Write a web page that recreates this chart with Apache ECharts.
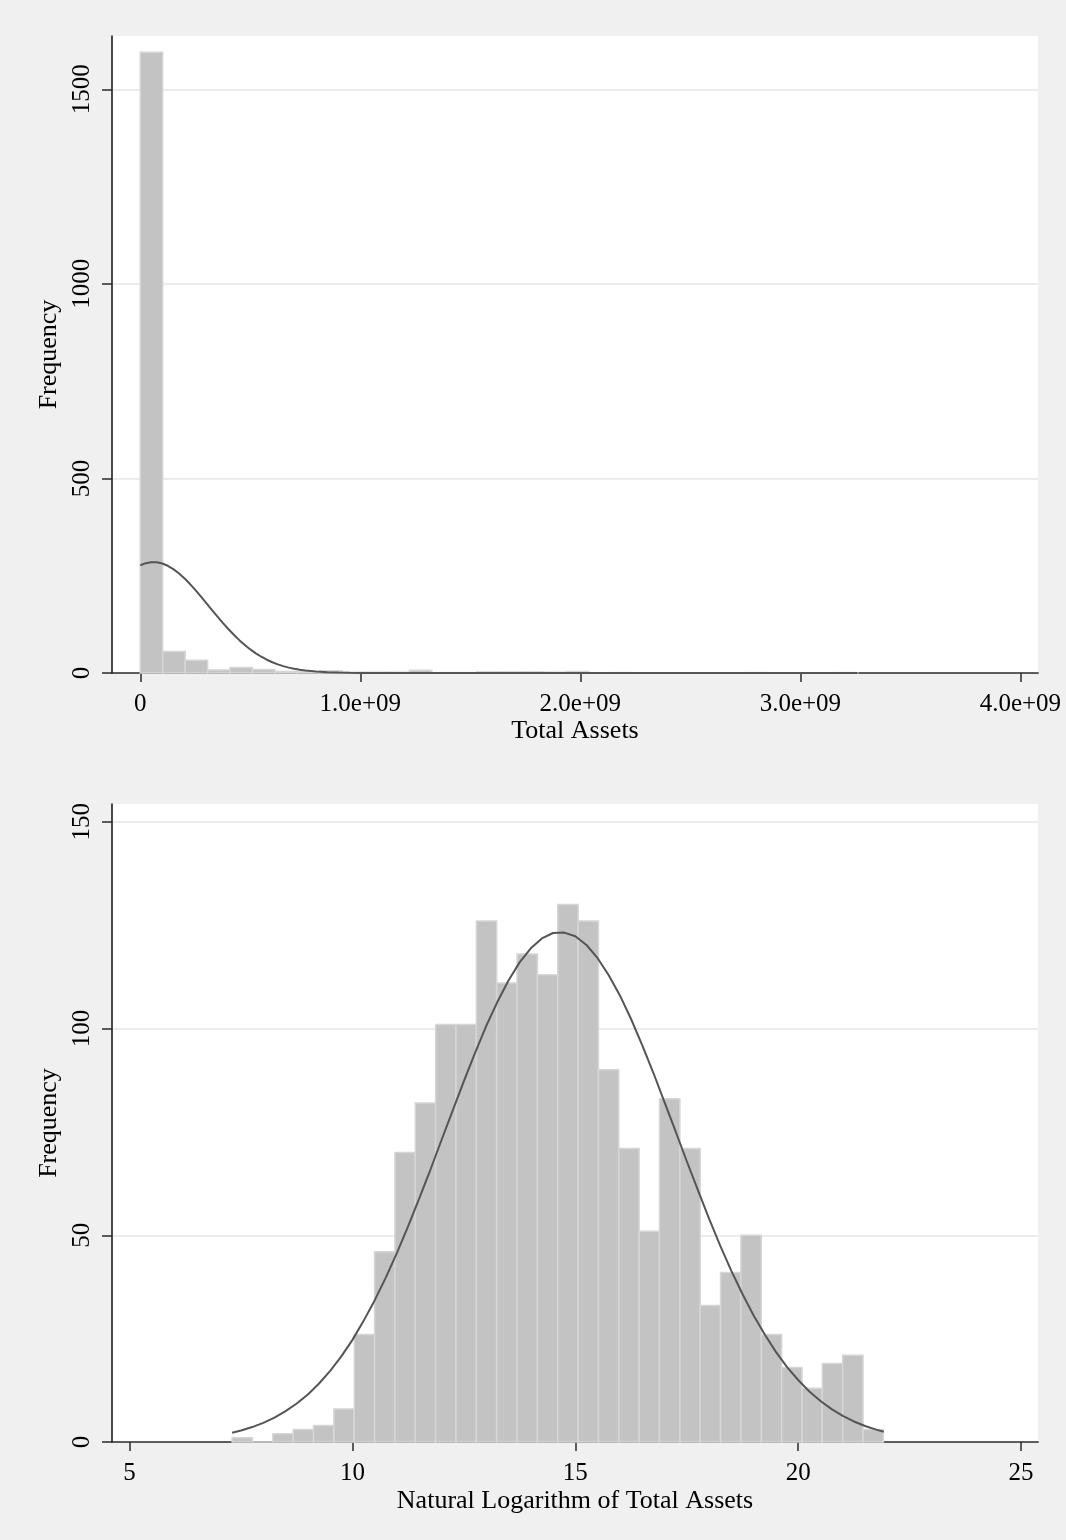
<!DOCTYPE html>
<html><head><meta charset="utf-8">
<script src="https://cdn.jsdelivr.net/npm/echarts@6/dist/echarts.min.js"></script>
<style>html,body{margin:0;padding:0;background:#f0f0f0}#c{width:1066px;height:1540px}</style>
</head><body><div id="c"></div>
<script>
// ---------- Top panel: Total Assets ----------
const assetsBinStart = 0;
const assetsBinWidth = 0.1019e9;
const assetsCounts = [1595,55,33,8,14,9,4,3,6,2,2,2,7,1,1,3,3,3,2,4,0,1,0,0,0,0,0,1,0,0,0,1];
const assetsCurveX = [0,0.025e9,0.05e9,0.075e9,0.1e9,0.125e9,0.15e9,0.175e9,0.2e9,0.225e9,0.25e9,0.275e9,0.3e9,0.325e9,0.35e9,0.375e9,0.4e9,0.425e9,0.45e9,0.475e9,0.5e9,0.525e9,0.55e9,0.575e9,0.6e9,0.625e9,0.65e9,0.675e9,0.7e9,0.725e9,0.75e9,0.8e9,0.85e9,0.9e9,0.95e9,1.0e9,1.1e9,1.3e9,1.6e9,2.0e9,2.4e9,2.8e9,3.26e9];
const assetsCurveY = [276.9,282.2,284.8,284.5,281.4,275.5,267.0,256.4,243.7,229.2,213.5,196.9,179.8,162.5,145.4,128.9,113.0,98.2,84.4,71.9,60.6,50.5,41.8,34.1,27.6,22.2,17.6,13.8,10.7,8.3,6.3,3.6,1.9,1.0,0.5,0.24,0.04,0,0,0,0,0,0];
const assetsTickValues = [0,1e9,2e9,3e9,4e9];
const assetsTickLabels = ['0','1.0e+09','2.0e+09','3.0e+09','4.0e+09'];
const freqTicksTop = [0,500,1000,1500];

// ---------- Bottom panel: ln(Total Assets) ----------
const lnBinStart = 7.30;
const lnBinWidth = 0.4566;
const lnCounts = [1,0,2,3,4,8,26,46,70,82,101,101,126,111,118,113,130,126,90,71,51,83,71,33,41,50,26,18,13,19,21,3];
const lnCurveX = [7.3,7.5,7.75,8,8.25,8.5,8.75,9,9.25,9.5,9.75,10,10.25,10.5,10.75,11,11.25,11.5,11.75,12,12.25,12.5,12.75,13,13.25,13.5,13.75,14,14.25,14.5,14.75,15,15.25,15.5,15.75,16,16.25,16.5,16.75,17,17.25,17.5,17.75,18,18.25,18.5,18.75,19,19.25,19.5,19.75,20,20.25,20.5,20.75,21,21.25,21.5,21.75,21.92];
const lnCurveY = [2.24,2.78,3.61,4.63,5.90,7.45,9.31,11.5,14.15,17.2,20.7,24.7,29.3,34.3,39.8,45.8,52.2,59.0,65.9,73.1,80.2,87.3,94.1,100.6,106.4,111.6,116.0,119.4,121.8,123.1,123.2,122.3,120.2,117.0,112.9,108.0,102.3,96.0,89.3,82.2,75.1,67.9,60.9,54.0,47.5,41.4,35.8,30.6,26.0,21.8,18.1,15.0,12.2,9.9,7.94,6.3,4.97,3.87,2.99,2.5];
const lnTickValues = [5,10,15,20,25];
const lnTickLabels = ['5','10','15','20','25'];
const freqTicksBottom = [0,50,100,150];

const serif = '"Liberation Serif", "Times New Roman", serif';
const axisColor = '#2a2a2a';

function binData(start, width, counts) {
  return counts.map((c, i) => [start + i * width, start + (i + 1) * width, c]);
}
function renderBar(params, api) {
  const p0 = api.coord([api.value(0), 0]);
  const p1 = api.coord([api.value(1), api.value(2)]);
  return {
    type: 'rect',
    shape: { x: p0[0], y: p1[1], width: p1[0] - p0[0], height: p0[1] - p1[1] },
    style: { fill: '#c3c3c3', stroke: '#d6d6d6', lineWidth: 1.5 }
  };
}
function pairs(xs, ys) { return xs.map((x, i) => [x, ys[i]]); }

function xAxisCfg(grid, min, max, vals, labels, name, gap) {
  return {
    gridIndex: grid, type: 'value', min: min, max: max,
    axisLine: { show: true, onZero: false, lineStyle: { color: axisColor, width: 1.7 } },
    axisTick: { show: true, length: 9, customValues: vals, lineStyle: { color: axisColor, width: 1.5 } },
    axisLabel: { customValues: vals, formatter: v => { const k = vals.indexOf(v); return k >= 0 ? labels[k] : String(v); },
      fontFamily: serif, fontSize: 25, color: '#000', margin: 19 },
    splitLine: { show: false },
    name: name, nameLocation: 'middle', nameGap: gap,
    nameTextStyle: { fontFamily: serif, fontSize: 26, color: '#000' }
  };
}
function yAxisCfg(grid, max, vals) {
  return {
    gridIndex: grid, type: 'value', min: 0, max: max,
    axisLine: { show: true, onZero: false, lineStyle: { color: axisColor, width: 1.7 } },
    axisTick: { show: true, length: 10, customValues: vals, lineStyle: { color: axisColor, width: 1.5 } },
    axisLabel: { customValues: vals, rotate: 90, formatter: v => String(v),
      fontFamily: serif, fontSize: 25, color: '#000', margin: 17 },
    splitLine: { show: false },
    name: 'Frequency', nameLocation: 'middle', nameGap: 49,
    nameTextStyle: { fontFamily: serif, fontSize: 26, color: '#000' }
  };
}
function gridLines(idx, vals, xmin) {
  return {
    type: 'line', xAxisIndex: idx, yAxisIndex: idx, z: 1, silent: true,
    data: [[xmin, 0]], showSymbol: false, lineStyle: { opacity: 0 },
    markLine: { silent: true, z: 0, zlevel: 0, symbol: 'none', label: { show: false },
      lineStyle: { color: '#ececec', width: 2, type: 'solid' },
      data: vals.filter(v => v > 0).map(v => ({ yAxis: v })) }
  };
}

const chart = echarts.init(document.getElementById('c'), null, { renderer: 'canvas' });
chart.setOption({
  backgroundColor: '#f0f0f0',
  animation: false,
  grid: [
    { left: 112, right: 28, top: 36, height: 637, show: true, backgroundColor: '#ffffff', borderWidth: 0 },
    { left: 112, right: 28, top: 804, height: 638, show: true, backgroundColor: '#ffffff', borderWidth: 0 }
  ],
  xAxis: [
    xAxisCfg(0, -0.1286e9, 4.08e9, assetsTickValues, assetsTickLabels, 'Total Assets', 44),
    xAxisCfg(1, 4.605, 25.38, lnTickValues, lnTickLabels, 'Natural Logarithm of Total Assets', 46)
  ],
  yAxis: [ yAxisCfg(0, 1637, freqTicksTop), yAxisCfg(1, 154.3, freqTicksBottom) ],
  series: [
    gridLines(0, freqTicksTop, 0),
    gridLines(1, freqTicksBottom, 7.3),
    { type: 'custom', xAxisIndex: 0, yAxisIndex: 0, z: 2, renderItem: renderBar,
      data: binData(assetsBinStart, assetsBinWidth, assetsCounts), encode: { x: [0, 1], y: 2 } },
    { type: 'custom', xAxisIndex: 1, yAxisIndex: 1, z: 2, renderItem: renderBar,
      data: binData(lnBinStart, lnBinWidth, lnCounts), encode: { x: [0, 1], y: 2 } },
    { type: 'line', xAxisIndex: 0, yAxisIndex: 0, z: 3, smooth: false, showSymbol: false,
      lineStyle: { color: '#555555', width: 2 }, data: pairs(assetsCurveX, assetsCurveY) },
    { type: 'line', xAxisIndex: 1, yAxisIndex: 1, z: 3, smooth: false, showSymbol: false,
      lineStyle: { color: '#555555', width: 2 }, data: pairs(lnCurveX, lnCurveY) }
  ]
});
</script></body></html>
